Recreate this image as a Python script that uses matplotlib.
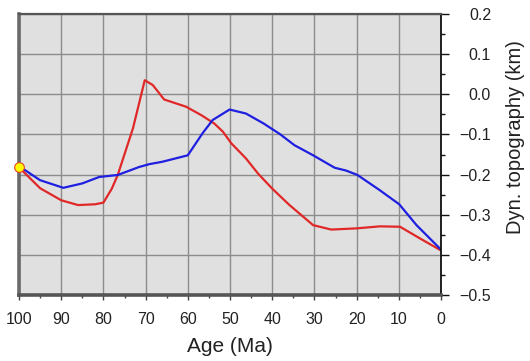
import matplotlib
matplotlib.use("Agg")
import matplotlib.pyplot as plt
from matplotlib.ticker import MultipleLocator, FixedLocator

plt.rcParams['font.family'] = ['Liberation Sans', 'DejaVu Sans']

# Data
red_age = [100, 95, 90, 86, 82, 80, 78, 76.6, 73, 70.2, 68.3, 65.6, 60.4, 56.8,
           53.7, 51.7, 49.7, 46.2, 43.4, 40, 35.9, 30.3, 26, 20, 14.5, 9.7, 5, 0]
red_val = [-0.182, -0.234, -0.264, -0.276, -0.274, -0.270, -0.235, -0.201, -0.085,
           0.035, 0.023, -0.013, -0.031, -0.052, -0.073, -0.093, -0.122, -0.160,
           -0.197, -0.235, -0.276, -0.326, -0.337, -0.334, -0.329, -0.330, -0.359,
           -0.389]

blue_age = [100, 95, 89.5, 85, 81, 76.6, 71.5, 69.1, 66, 60, 56.5, 54.1, 50.1,
            46.2, 42, 38.2, 34.7, 30.3, 25.2, 22.5, 19.8, 14.5, 9.9, 5.8, 0]
blue_val = [-0.179, -0.214, -0.233, -0.222, -0.206, -0.201, -0.181, -0.174, -0.168,
            -0.152, -0.097, -0.064, -0.038, -0.048, -0.073, -0.099, -0.127, -0.152,
            -0.183, -0.190, -0.201, -0.239, -0.274, -0.326, -0.387]

start_age = [100]
start_val = [-0.18]

x_ticks = [100, 90, 80, 70, 60, 50, 40, 30, 20, 10, 0]
y_ticks = [0.2, 0.1, 0.0, -0.1, -0.2, -0.3, -0.4, -0.5]

fig = plt.figure(figsize=(5.30, 3.61), dpi=100)
ax = fig.add_axes([19/530, 1-295/361, 422/530, 281/361])
ax.set_facecolor('#e0e0e0')

ax.plot(red_age, red_val, color='#e02828', lw=1.6, zorder=3)
ax.plot(blue_age, blue_val, color='#1f1fe0', lw=1.6, zorder=3)
ax.plot(start_age, start_val, 'o', ms=7, mfc='#ffff00', mec='#e8402a', mew=0.8,
        clip_on=False, zorder=5)

ax.set_xlim(100, 0)
ax.set_ylim(-0.5, 0.2)

ax.xaxis.set_major_locator(FixedLocator(x_ticks))
ax.xaxis.set_minor_locator(MultipleLocator(5))
ax.yaxis.set_major_locator(FixedLocator(y_ticks))
ax.yaxis.set_minor_locator(MultipleLocator(0.05))

ax.grid(True, which='major', color='#8c8c8c', lw=1.0, zorder=1)
ax.set_axisbelow(True)

ax.yaxis.tick_right()
ax.yaxis.set_label_position('right')
ax.set_yticklabels([f"{v:.1f}".replace('-', '\u2212') for v in y_ticks])
ax.set_xticklabels([str(v) for v in x_ticks])

ax.tick_params(axis='x', which='major', direction='out', length=3.5, width=1.0,
               color='#444444', labelsize=11.5, pad=9, labelcolor='#222222')
ax.tick_params(axis='x', which='minor', direction='out', length=2, width=1.0,
               color='#444444')
ax.tick_params(axis='y', which='major', direction='out', length=6, width=1.0,
               color='#111111', labelsize=11.5, pad=30, labelcolor='#222222')
ax.tick_params(axis='y', which='minor', direction='out', length=3, width=1.0,
               color='#111111')
for t in ax.yaxis.get_major_ticks():
    t.label2.set_horizontalalignment('right')

for side, lw, c in [('left', 2.6, '#6a6a6a'), ('bottom', 2.6, '#555555'),
                    ('top', 1.6, '#555555'), ('right', 1.3, '#111111')]:
    ax.spines[side].set_linewidth(lw)
    ax.spines[side].set_color(c)
    ax.spines[side].set_zorder(4)

ax.set_xlabel('Age (Ma)', fontsize=15, color='#222222')
ax.xaxis.label.set_verticalalignment('center')
ax.xaxis.set_label_coords(0.5, -(346-295)/281)
ax.set_ylabel('Dyn. topography (km)', fontsize=14.5, color='#222222')
ax.yaxis.label.set_verticalalignment('center')
ax.yaxis.set_label_coords((515.5-19)/422, 1-(137-14)/281)

fig.savefig('out.png', dpi=100)
